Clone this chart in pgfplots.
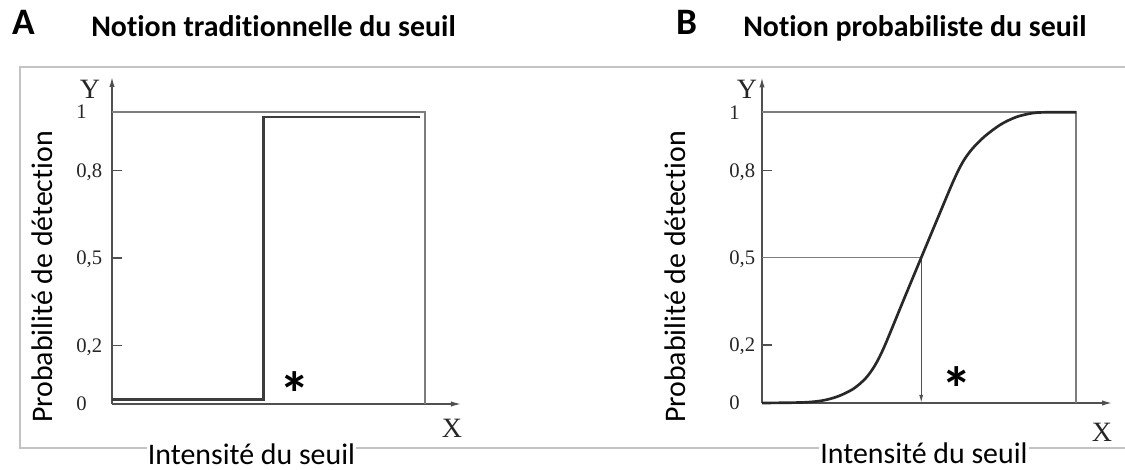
\documentclass[border=0pt]{standalone}
\usepackage{fontspec}
\setmainfont{Carlito}[Ligatures=NoCommon]
\newfontfamily\tnr{Liberation Serif}
\usepackage{pgfplots}
\pgfplotsset{compat=1.18}
\usetikzlibrary{arrows.meta}
\definecolor{axisgray}{RGB}{80,80,80}
\definecolor{boxgray}{RGB}{125,125,125}
\definecolor{framegray}{RGB}{195,195,195}
\definecolor{curveblack}{RGB}{40,40,40}
\pgfplotsset{
  seuil/.style={
    axis lines=left,
    axis line style={axisgray, line width=1.1pt, -{Latex[length=7.5pt,width=4pt]}},
    xmin=0, xmax=1.115, ymin=0, ymax=1.12,
    xtick=\empty,
    ytick={0,0.2,0.5,0.8,1},
    yticklabels={0,{0,2},{0,5},{0,8},1},
    tick align=inside,
    major tick length=7.5pt,
    tick style={axisgray, line width=1pt},
    yticklabel style={font=\tnr\fontsize{15.5}{17}\selectfont, text=black!85, anchor=base west, inner sep=0pt, yshift=-5.1pt},
    clip=false,
    anchor=south west,
  }
}
\begin{document}
\begin{tikzpicture}
\begin{scope}[x=0.75pt,y=-0.75pt]
\useasboundingbox (0,0) rectangle (1125,470);
\draw[framegray, line width=0.8pt] (1125,67) -- (20,67) -- (20,448) -- (1125,448);
% panel letters and titles
\node[anchor=base west, inner sep=0pt, font=\bfseries\fontsize{28}{30}\selectfont] at (12,35) {A};
\node[anchor=base west, inner sep=0pt, font=\bfseries\fontsize{22.4}{26}\selectfont] at (91,37) {Notion traditionnelle du seuil};
\node[anchor=base west, inner sep=0pt, font=\bfseries\fontsize{28}{30}\selectfont] at (676,35) {B};
\node[anchor=base west, inner sep=0pt, font=\bfseries\fontsize{22.4}{26}\selectfont] at (743,37) {Notion probabiliste du seuil};
% axis titles
\node[rotate=90, inner sep=0pt, font=\fontsize{22.4}{26}\selectfont] at (42,277) {Probabilité de détection};
\node[rotate=90, inner sep=0pt, font=\fontsize{22.4}{26}\selectfont] at (675,277) {Probabilité de détection};
\node[anchor=base, fill=white, inner sep=1pt, font=\fontsize{22.4}{26}\selectfont] at (251.5,464) {Intensité du seuil};
\node[anchor=base, fill=white, inner sep=1pt, font=\fontsize{22.4}{26}\selectfont] at (924,463) {Intensité du seuil};
% axis letters
\node[font=\tnr\fontsize{21}{23}\selectfont, text=black!85] at (90,89) {Y};
\node[font=\tnr\fontsize{21}{23}\selectfont, text=black!85] at (452,428) {X};
\node[font=\tnr\fontsize{21}{23}\selectfont, text=black!85] at (747,89) {Y};
\node[font=\tnr\fontsize{21}{23}\selectfont, text=black!85] at (1102,432) {X};
% asterisks
\node[font=\bfseries\fontsize{46}{48}\selectfont] at (295,394) {*};
\node[font=\bfseries\fontsize{46}{48}\selectfont] at (957,389) {*};
\end{scope}

% Panel A
\begin{axis}[seuil, at={(84pt,-303pt)}, x=234.75pt, y=219pt, yticklabel style={xshift=-27pt}]
\addplot[boxgray, line width=1.3pt, line join=miter] coordinates {(0,1) (1,1) (1,0)};
\addplot[curveblack!90, line width=2pt, line join=miter] coordinates {(0,0.015) (0.485,0.015) (0.485,0.983) (0.984,0.983)};
\end{axis}

% Panel B
\begin{axis}[seuil, at={(571.5pt,-302.25pt)}, x=235.5pt, y=218pt, yticklabel style={xshift=-24.75pt}]
\addplot[boxgray, line width=1.3pt, line join=miter] coordinates {(0,1) (1,1) (1,0)};
\addplot[boxgray, line width=1.2pt] coordinates {(0,0.5) (0.507,0.5)};
\addplot[axisgray, line width=0.9pt, -{Latex[length=6pt,width=3pt]}] coordinates {(0.507,0.5) (0.507,0)};
\addplot[curveblack, line width=2pt, smooth] coordinates {
(0,0) (0.13,0.002) (0.19,0.008) (0.24,0.022) (0.29,0.048) (0.33,0.085)
(0.36,0.13) (0.39,0.195) (0.45,0.352) (0.507,0.5) (0.56,0.637)
(0.61,0.765) (0.64,0.83) (0.67,0.875) (0.71,0.918) (0.76,0.958)
(0.81,0.984) (0.86,0.997) (0.90,1) (1,1)};
\end{axis}
\end{tikzpicture}
\end{document}
